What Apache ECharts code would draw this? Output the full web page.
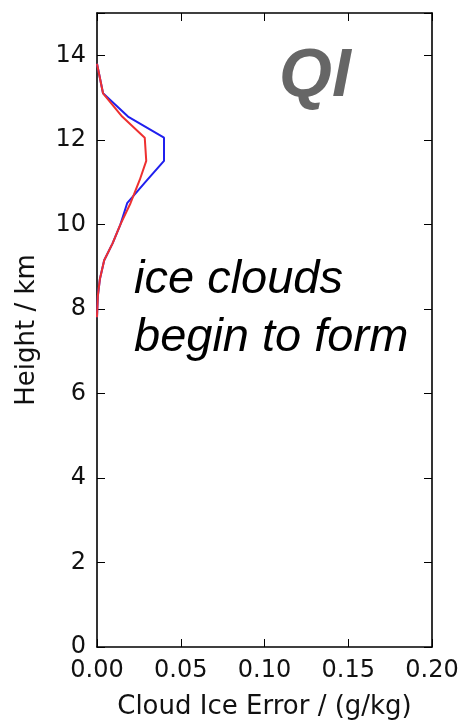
<!DOCTYPE html>
<html>
<head>
<meta charset="utf-8">
<script src="https://cdn.jsdelivr.net/npm/echarts@6/dist/echarts.min.js"></script>
<style>html,body{margin:0;padding:0;background:#fff}#c{width:458px;height:721px}</style>
</head>
<body>
<div id="c"></div>
<script>
const heights = [7.8, 8.3, 8.7, 9.15, 9.55, 10.0, 10.5, 11.05, 11.5, 12.05, 12.55, 13.1, 13.8];
const blueErr = [0, 0.0005, 0.0017, 0.0043, 0.0093, 0.014, 0.018, 0.030, 0.040, 0.040, 0.0185, 0.0036, 0];
const redErr  = [0, 0.0005, 0.0017, 0.0043, 0.0093, 0.014, 0.020, 0.0255, 0.0294, 0.0285, 0.015, 0.0036, 0];
const xTicks = [0, 0.05, 0.10, 0.15, 0.20];
const yTicks = [0, 2, 4, 6, 8, 10, 12, 14];

const chart = echarts.init(document.getElementById('c'), null, {renderer: 'canvas'});
const tickFont = {fontFamily: 'DejaVu Sans', fontSize: 24, color: '#111'};
const baseAxis = {
  axisLine: {show: true, onZero: false, lineStyle: {color: '#000', width: 1.6}},
  axisTick: {show: true, inside: true, length: 8, lineStyle: {color: '#000', width: 1}},
  splitLine: {show: false}
};
const option = {
  animation: false,
  backgroundColor: '#fff',
  grid: {left: 97, right: 26, top: 13, bottom: 74, containLabel: false, outerBoundsMode: 'none'},
  xAxis: [
    Object.assign({}, baseAxis, {
      type: 'value', min: 0, max: 0.2, interval: 0.05, position: 'bottom',
      axisLabel: Object.assign({}, tickFont, {margin: 12, formatter: v => v.toFixed(2)}),
      name: 'Cloud Ice Error / (g/kg)', nameLocation: 'middle', nameGap: 47,
      nameTextStyle: {fontFamily: 'DejaVu Sans', fontSize: 26, color: '#111'}
    }),
    Object.assign({}, baseAxis, {
      type: 'value', min: 0, max: 0.2, interval: 0.05, position: 'top',
      axisLabel: {show: false}
    })
  ],
  yAxis: [
    Object.assign({}, baseAxis, {
      type: 'value', min: 0, max: 15, interval: 2, position: 'left',
      axisLabel: Object.assign({}, tickFont, {margin: 11, formatter: v => (yTicks.indexOf(v) >= 0 ? String(v) : '')}),
      name: 'Height / km', nameLocation: 'middle', nameGap: 57, nameRotate: 90,
      nameTextStyle: {fontFamily: 'DejaVu Sans', fontSize: 26, color: '#111'}
    }),
    Object.assign({}, baseAxis, {
      type: 'value', min: 0, max: 15, interval: 2, position: 'right',
      axisLabel: {show: false}
    })
  ],
  series: [
    {type: 'line', name: 'blue', xAxisIndex: 0, yAxisIndex: 0, symbol: 'none',
     lineStyle: {color: '#2020ee', width: 2}, z: 3,
     data: heights.map((h, i) => [blueErr[i], h])},
    {type: 'line', name: 'red', xAxisIndex: 0, yAxisIndex: 0, symbol: 'none',
     lineStyle: {color: '#ee3030', width: 2}, z: 4,
     data: heights.map((h, i) => [redErr[i], h])}
  ],
  graphic: [
    {type: 'text', left: 279, top: 43, style: {text: 'QI', font: 'italic bold 68px "Liberation Sans", Arial, sans-serif', fill: '#666666'}},
    {type: 'text', left: 134, top: 256, style: {text: 'ice clouds', font: 'italic 47px "Liberation Sans", Arial, sans-serif', fill: '#000'}},
    {type: 'text', left: 134, top: 314, style: {text: 'begin to form', font: 'italic 47px "Liberation Sans", Arial, sans-serif', fill: '#000'}}
  ]
};
chart.setOption(option);
</script>
</body>
</html>
